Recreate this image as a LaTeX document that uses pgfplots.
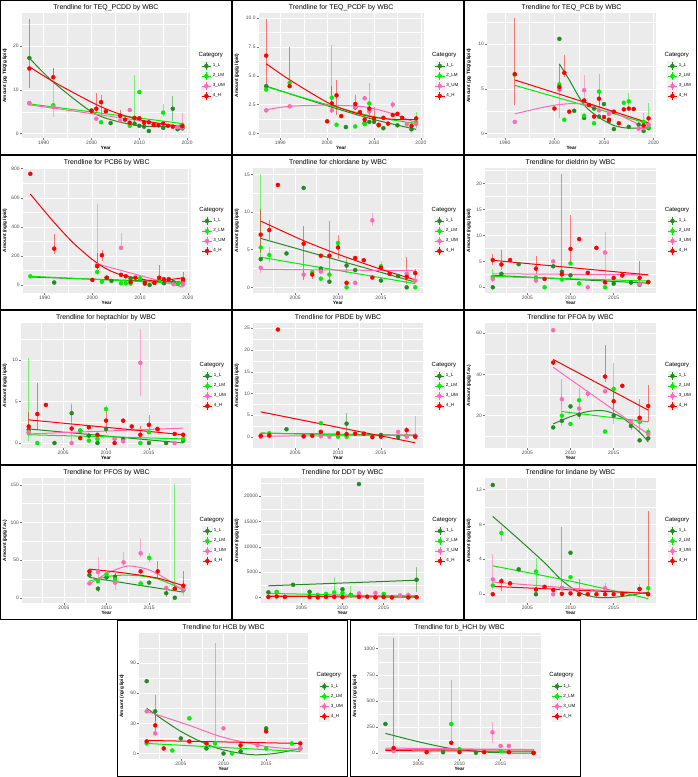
\documentclass[border=0pt]{standalone}
\usepackage{fontspec}
\setmainfont{Liberation Sans}
\usepackage{pgfplots}
\pgfplotsset{compat=1.18}

\definecolor{cL}{HTML}{228B22}
\definecolor{cLM}{HTML}{00F000}
\definecolor{cUM}{HTML}{FF69B4}
\definecolor{cH}{HTML}{FF0000}
\definecolor{ggbg}{HTML}{EBEBEB}
\definecolor{keybg}{HTML}{F2F2F2}

\pgfplotsset{
  /pgfplots/table/eb/.style={/pgfplots/table/row sep=\\,
    /pgfplots/table/y error plus=p, /pgfplots/table/y error minus=m},
  gg/.style={
    scale only axis, anchor=north west, height=125pt,
    axis background/.style={fill=ggbg},
    axis line style={draw=none},
    grid=both,
    major grid style={white, line width=0.55pt},
    minor grid style={white, line width=0.28pt},
    tick pos=left, tick align=outside,
    major tick length=2pt, minor tick length=0pt,
    tick style={black!55, line width=0.45pt},
    tick label style={font=\fontsize{4.9}{5}\selectfont, text=black!70, inner sep=1pt},
    /pgf/number format/assume math mode=true,
    /pgf/number format/1000 sep={},
    scaled ticks=false,
    xlabel={Year},
    every axis title/.style={font=\fontsize{6.9}{8}\selectfont, at={(0.5,1)}, anchor=south, yshift=2.2pt, inner sep=0pt},
    every axis x label/.style={at={(0.5,0)}, anchor=north, yshift=-8.2pt, inner sep=0pt,
      font=\bfseries\fontsize{4.7}{5}\selectfont},
    every axis y label/.style={at={(axis description cs:-0.1,0.5)}, rotate=90, anchor=center, inner sep=0pt,
      font=\bfseries\fontsize{4.7}{5}\selectfont},
    xmin=2000.1, xmax=2019.9,
    xtick={2005,2010,2015}, minor xtick={2002.5,2007.5,2012.5,2017.5},
    legend style={at={(rel axis cs:1.065,0.615)}, anchor=north west, draw=none, fill=none,
       font=\fontsize{4.5}{5}\selectfont, row sep=0.6pt, inner sep=0pt, column sep=0.5pt,
       nodes={inner sep=0.8pt}},
    legend cell align=left,
    legend image code/.code={
      \fill[keybg] (0pt,-4.5pt) rectangle (9.5pt,4.5pt);
      \draw[line width=0.85pt] (0pt,0pt) -- (9.5pt,0pt);
      \draw[line width=0.8pt] (4.75pt,-3.8pt) -- (4.75pt,3.8pt);
      \fill (4.75pt,0pt) circle (2pt);
    },
    after end axis/.code={\node[anchor=south west, inner sep=0pt, font=\fontsize{6}{7}\selectfont]
      at (rel axis cs:1.05,0.64) {Category};},
  },
  yl/.style={ylabel style={at={(axis description cs:#1,0.5)}}},
  pts/.style={forget plot, only marks, mark=*, mark size=2pt, color=#1,
    error bars/.cd, y dir=both, y explicit, error mark=none,
    error bar style={color=#1, line width=0.8pt, opacity=0.5}},
  trend/.style={forget plot, no markers, smooth, line width=1pt, color=#1},
  old/.style={xmin=1985.4, xmax=2020.6, xtick={1990,2000,2010,2020}, minor xtick={1995,2005,2015}},
}
\newcommand\catleg{%
  \addlegendimage{color=cL}\addlegendentry{1\_L}%
  \addlegendimage{color=cLM}\addlegendentry{2\_LM}%
  \addlegendimage{color=cUM}\addlegendentry{3\_UM}%
  \addlegendimage{color=cH}\addlegendentry{4\_H}}

\begin{document}
\begin{tikzpicture}[x=1pt,y=1pt]
\useasboundingbox (0,0) rectangle (697,777);

% ---------- row 1 ----------
\begin{axis}[gg, old, at={(21.7pt,764pt)}, width=168.3pt, yl=-0.0992,
  title={Trendline for TEQ\_PCDD by WBC}, ylabel={Amount (pg TEQ/g lipid)},
  ymin=-1, ymax=27.6, ytick={0,10,20}, minor ytick={5,15,25}]
\catleg
\addplot[pts=cL] table[eb]{x y p m\\1987 17.3 0 0\\2000 5.3 0 0\\2004 2.4 0 0\\2009 2.3 0 0\\2010 1.8 0 0\\2011 1.6 0 0\\2012 0.6 0 0\\2015 1.3 0 0\\2017 5.7 2.8 2.7\\2018 1.0 0 0\\2019 1.2 0 0\\};
\addplot[pts=cLM] table[eb]{x y p m\\1987 7.0 0 0\\1992 6.5 0 0\\2002 2.6 0 0\\2008 1.8 0 0\\2009 3.5 10 1.5\\2010 9.5 0 0\\2015 4.8 2 1\\2019 2.0 0 0\\};
\addplot[pts=cUM] table[eb]{x y p m\\1987 6.9 0 0\\1992 6.1 8.9 2.4\\2001 3.4 0 0\\2006 3.0 0 0\\2008 5.4 0 0\\2018 1.5 0 0\\2019 1.4 3.3 0.5\\};
\addplot[pts=cH] table[eb]{x y p m\\1987 14.9 11.4 4.4\\1992 12.9 2 0.5\\2000 5.2 0 0\\2001 5.7 3.5 1\\2002 7.2 1.7 3\\2003 5.1 0 0\\2006 4.1 1.3 0.5\\2007 3.2 0 0\\2008 2.5 0 0\\2009 3.6 0 0\\2010 3.5 0 0\\2011 2.5 0 0\\2012 2.6 0 0\\2013 2.0 0 0\\2014 1.9 0 0\\2015 2.3 0 0\\2016 1.8 0 0\\2017 1.6 0 0\\2019 1.7 0 0\\};
\addplot[trend=cL] coordinates {(1987,17.3)(1992,11.8)(2000,5.0)(2005,2.9)(2010,1.8)(2015,1.6)(2019,2.0)};
\addplot[trend=cLM] coordinates {(1987,6.8)(2003,4.55)(2019,2.3)};
\addplot[trend=cUM] coordinates {(1987,6.6)(2003,4.1)(2019,1.5)};
\addplot[trend=cH] coordinates {(1987,15.3)(1992,11.9)(2000,7.2)(2005,4.8)(2010,3.2)(2015,2.2)(2019,1.6)};
\end{axis}

\begin{axis}[gg, old, at={(258.7pt,764pt)}, width=165pt, yl=-0.1315,
  title={Trendline for TEQ\_PCDF by WBC}, ylabel={Amount (pg/g lipid)},
  ymin=-0.4, ymax=10.45, ytick={0,2.5,5,7.5,10}, yticklabels={0.0,2.5,5.0,7.5,10.0},
  minor ytick={1.25,3.75,6.25,8.75}]
\catleg
\addplot[pts=cL] table[eb]{x y p m\\1987 4.1 0 0\\2004 0.55 0 0\\2006 2.25 0 0\\2008 0.9 0 0\\2009 1.0 0 0\\2010 1.0 0 0\\2011 0.7 0 0\\2012 0.45 0 0\\2015 0.7 0 0\\2018 0.35 0 0\\};
\addplot[pts=cLM] table[eb]{x y p m\\1987 3.8 0 0\\1992 4.4 0 0\\2001 3.1 4.6 0.5\\2002 0.75 0 0\\2006 0.6 0 0\\2008 0.8 0 0\\2009 2.6 1.8 0.4\\2019 0.95 0.9 0.5\\};
\addplot[pts=cUM] table[eb]{x y p m\\1987 2.0 0 0\\1992 2.35 0 0\\2001 2.0 0 0\\2006 2.3 0 0\\2008 3.05 0 0\\2009 1.9 0 0\\2014 2.5 0.3 0.3\\2017 0.8 0 0\\2019 0.8 0 0\\};
\addplot[pts=cH] table[eb]{x y p m\\1987 6.75 3.2 2.6\\1992 4.1 3.4 0\\2000 1.05 0 0\\2001 2.6 1.5 0.8\\2002 3.3 1.35 1.7\\2003 1.5 0 0\\2006 2.55 0.8 0.5\\2007 1.85 0 0\\2008 1.2 0 0\\2009 2.15 0.5 0.8\\2010 1.3 1 0.3\\2011 0.75 0 0\\2012 1.35 0 0\\2013 0.85 0 0\\2014 1.6 0 0\\2015 1.7 0 0\\2016 1.35 0 0\\2018 0.65 0.3 0\\2019 1.3 0 0\\};
\addplot[trend=cL] coordinates {(1987,4.1)(2000,2.4)(2010,1.2)(2019,0.35)};
\addplot[trend=cLM] coordinates {(1987,4.05)(2000,2.5)(2010,1.45)(2019,0.85)};
\addplot[trend=cUM] coordinates {(1987,2.05)(1992,2.35)(2000,2.45)(2008,2.3)(2014,1.7)(2019,0.9)};
\addplot[trend=cH] coordinates {(1987,6.05)(1992,4.65)(2000,2.7)(2005,1.9)(2010,1.4)(2015,1.2)(2019,1.2)};
\end{axis}

\begin{axis}[gg, at={(487pt,764pt)}, width=169pt, yl=-0.1065,
  xmin=1986.4, xmax=2020.5, xtick={1990,2000,2010,2020}, minor xtick={1995,2005,2015},
  title={Trendline for TEQ\_PCB by WBC}, ylabel={Amount (pg TEQ/g lipid)},
  ymin=-0.5, ymax=13.5, ytick={0,5,10}, minor ytick={2.5,7.5,12.5}]
\catleg
\addplot[pts=cL] table[eb]{x y p m\\2001 10.6 0 0\\2004 2.55 0 0\\2006 1.75 0 0\\2008 2.8 0 0\\2009 1.9 0 0\\2010 3.3 0 0\\2011 1.4 0 0\\2012 0.5 0 0\\2015 0.75 0 0\\2017 1.0 0 0\\2018 0.3 0 0\\2019 0.6 0 0\\};
\addplot[pts=cLM] table[eb]{x y p m\\1992 6.6 0 0\\2001 5.5 0 0\\2002 1.55 0 0\\2006 2.0 0 0\\2008 1.15 0 0\\2009 4.7 2 1.5\\2014 3.45 0 0\\2015 3.6 0.9 0.5\\2018 1.3 1 0.5\\2019 0.7 2.7 0\\};
\addplot[pts=cUM] table[eb]{x y p m\\1992 1.3 0 0\\2001 4.9 1 3.2\\2006 4.85 1.7 1\\2009 2.6 0 0\\2011 2.2 0 0\\2017 0.55 0 0\\2018 0.6 0 0\\2019 1.0 0 0\\};
\addplot[pts=cH] table[eb]{x y p m\\1992 6.65 6.25 3.5\\2000 2.8 0 0\\2001 5.2 2.6 0.6\\2002 6.8 2 0.5\\2003 2.45 0 0\\2006 3.7 0 0\\2007 3.2 0 0\\2008 1.9 0 0\\2009 3.9 0.8 1\\2010 1.85 0 0\\2011 1.55 0 0\\2012 2.45 0 0\\2013 1.15 0 0\\2014 2.7 0 0\\2015 2.8 0 0\\2016 2.75 0 0\\2018 0.9 0 0\\2019 1.7 0 0\\};
\addplot[trend=cL] coordinates {(2001,7.8)(2003,6.0)(2006,3.2)(2009,1.8)(2012,0.9)(2015,0.6)(2019,0.65)};
\addplot[trend=cLM] coordinates {(1992,5.4)(2005,3.33)(2019,1.1)};
\addplot[trend=cUM] coordinates {(1992,2.2)(1997,2.85)(2001,3.25)(2005,3.35)(2009,2.95)(2013,2.1)(2016,1.3)(2018,0.75)};
\addplot[trend=cH] coordinates {(1992,6.0)(2005,3.7)(2019,1.2)};
\end{axis}

% ---------- row 2 ----------
\begin{axis}[gg, old, at={(22.7pt,609pt)}, width=168pt, yl=-0.1054,
  title={Trendline for PCB6 by WBC}, ylabel={Amount (ng/g lipid)},
  ymin=-55, ymax=805, ytick={0,200,400,600,800}, minor ytick={100,300,500,700}]
\catleg
\addplot[pts=cL] table[eb]{x y p m\\1992 17 0 0\\2003 50 0 0\\2004 28 0 0\\2008 45 0 0\\2010 42 0 0\\2011 8 0 0\\2012 0 0 0\\2015 12 0 0\\2017 20 0 0\\2018 10 0 0\\2019 30 0 0\\};
\addplot[pts=cLM] table[eb]{x y p m\\1987 60 0 0\\2001 90 40 20\\2002 22 0 0\\2006 12 0 0\\2007 12 0 0\\2008 10 0 0\\2010 45 0 0\\2014 40 0 0\\2018 10 0 0\\2019 5 0 0\\};
\addplot[pts=cUM] table[eb]{x y p m\\2001 135 420 0\\2006 255 100 0\\2013 15 0 0\\2017 5 0 0\\2019 10 0 0\\};
\addplot[pts=cH] table[eb]{x y p m\\1987 765 0 0\\1992 250 100 40\\2000 35 0 0\\2001 130 90 20\\2002 205 35 40\\2003 50 0 0\\2006 70 0 0\\2007 60 0 0\\2008 20 0 0\\2009 50 0 0\\2011 15 0 0\\2013 15 0 0\\2014 50 85 10\\2015 40 0 0\\2016 40 0 0\\2019 40 50 20\\};
\addplot[trend=cL] coordinates {(1987,55)(2003,37)(2019,20)};
\addplot[trend=cLM] coordinates {(1987,60)(2003,35)(2019,10)};
\addplot[trend=cUM] coordinates {(2001,145)(2010,65)(2019,-15)};
\addplot[trend=cH] coordinates {(1987,625)(1992,430)(1996,290)(2000,175)(2003,110)(2006,70)(2010,42)(2013,28)(2016,36)(2019,50)};
\end{axis}

\begin{axis}[gg, at={(253pt,609pt)}, width=170pt, yl=-0.0941,
  title={Trendline for chlordane by WBC}, ylabel={Amount (ng/g lipid)},
  ymin=-0.75, ymax=15.85, ytick={0,5,10,15}, minor ytick={2.5,7.5,12.5}]
\catleg
\addplot[pts=cL] table[eb]{x y p m\\2001 3.75 0 0\\2004 4.5 0 0\\2006 13.2 0 0\\2008 2.5 0 0\\2009 0.75 8 0\\2011 2.9 1 1\\2012 2.3 0 0\\2015 0.9 0 0\\2017 1.5 0 0\\2018 0 0 0\\};
\addplot[pts=cLM] table[eb]{x y p m\\2001 5.3 9.8 2\\2002 4.3 1 1\\2007 2.0 0 0\\2008 1.15 0 0\\2009 1.7 1 0.5\\2010 5.9 0 0\\2011 0 0 0\\2015 2.8 0.7 0.5\\2019 0 0 0\\};
\addplot[pts=cUM] table[eb]{x y p m\\2001 2.6 0.3 0.7\\2006 1.7 0.5 0.5\\2008 2.1 0 0\\2012 0.6 0 0\\2014 8.9 1 0.7\\2018 1.8 0 0\\2019 0.9 0 0\\};
\addplot[pts=cH] table[eb]{x y p m\\2001 7.0 3.4 2.5\\2002 7.6 1.3 1.3\\2003 13.6 0 0\\2006 5.8 2.3 4.8\\2007 1.7 0.5 0.6\\2008 4.2 0 0\\2009 4.2 0 0\\2010 5.3 1.7 1.5\\2011 0.6 0 0\\2012 3.9 0 0\\2013 3.6 0 0\\2014 1.3 0 0\\2015 2.6 0 0\\2016 1.8 0 0\\2018 1.4 2.6 1\\2019 1.9 0.6 0.6\\};
\addplot[trend=cL] coordinates {(2001,6.5)(2010,3.6)(2019,0.7)};
\addplot[trend=cLM] coordinates {(2001,4.0)(2010,2.25)(2019,0.5)};
\addplot[trend=cUM] coordinates {(2001,2.4)(2010,2.3)(2019,2.2)};
\addplot[trend=cH] coordinates {(2001,8.8)(2006,6.2)(2010,4.4)(2015,2.4)(2019,1.0)};
\end{axis}

\begin{axis}[gg, at={(485pt,609pt)}, width=171pt, yl=-0.0936,
  title={Trendline for dieldrin by WBC}, ylabel={Amount (ng/g lipid)},
  ymin=-1.1, ymax=23.0, ytick={0,5,10,15,20}, minor ytick={2.5,7.5,12.5,17.5,22.5}]
\catleg
\addplot[pts=cL] table[eb]{x y p m\\2001 0 0 0\\2002 2.6 0 0\\2004 4.45 0 0\\2008 4.05 0 0\\2009 3.0 18.9 1\\2010 2.3 0 0\\2015 0.7 0 0\\2017 0.9 0 0\\2018 0.5 0 0\\2019 1.0 0 0\\};
\addplot[pts=cLM] table[eb]{x y p m\\2001 2.0 1.5 1\\2006 1.9 0 0\\2007 0 0 0\\2009 1.5 0 0\\2010 4.6 0 0\\2011 0.75 0 0\\2014 0 0 0\\2019 1.0 0 0\\};
\addplot[pts=cUM] table[eb]{x y p m\\2001 1.6 0 0\\2006 1.3 0 0\\2008 5.0 0 0\\2012 0 0 0\\2014 6.7 3.9 6\\2016 2.3 0 0\\2018 0.6 0 0\\};
\addplot[pts=cH] table[eb]{x y p m\\2001 5.25 1.2 1\\2002 4.4 2.8 1\\2003 5.25 0 0\\2006 3.6 2.5 1\\2007 1.6 0 0\\2009 2.5 0 0\\2010 7.4 6.6 3\\2011 9.3 0 0\\2012 2.8 0 0\\2013 7.6 0 0\\2014 0.95 0 0\\2015 1.8 0 0\\2016 2.3 0 0\\2018 1.8 3.2 1\\2019 1.0 0 0\\};
\addplot[trend=cL] coordinates {(2001,2.3)(2010,1.55)(2019,0.8)};
\addplot[trend=cLM] coordinates {(2001,2.1)(2010,1.65)(2019,1.2)};
\addplot[trend=cUM] coordinates {(2001,2.6)(2010,2.5)(2019,2.4)};
\addplot[trend=cH] coordinates {(2001,5.2)(2010,3.8)(2019,2.4)};
\end{axis}

% ---------- row 3 ----------
\begin{axis}[gg, at={(21pt,454pt)}, width=170pt, yl=-0.0941,
  title={Trendline for heptachlor by WBC}, ylabel={Amount (ng/g lipid)},
  ymin=-0.6, ymax=14.5, ytick={0,5,10}, minor ytick={2.5,7.5,12.5}]
\catleg
\addplot[pts=cL] table[eb]{x y p m\\2001 1.6 0 0\\2004 0 0 0\\2006 3.6 1 1\\2007 1.5 0 0\\2008 0.9 0 0\\2009 0 0 0\\2010 1.7 0 0\\2012 0.5 0 0\\2015 0 0 0\\2017 0 0 0\\2019 0.3 0 0\\};
\addplot[pts=cLM] table[eb]{x y p m\\2001 1.2 9.1 1\\2002 0 0 0\\2007 1.5 0 0\\2008 0.3 0 0\\2009 0.5 0 0\\2010 4.1 0.5 0.5\\2014 0 0 0\\2015 1.3 0 0\\2019 0.5 0 0\\};
\addplot[pts=cUM] table[eb]{x y p m\\2001 1.3 0 0\\2006 0 4.8 0\\2011 0.5 0 0\\2012 0.2 0 0\\2014 9.7 4.1 4\\2016 1.6 0 0\\2018 0 0 0\\};
\addplot[pts=cH] table[eb]{x y p m\\2001 2.0 1.8 1\\2002 3.5 3.7 1.8\\2003 4.6 0 0\\2006 1.75 0 0\\2007 0.6 0 0\\2008 1.9 0 0\\2009 1.0 0 0\\2010 2.7 1 1.5\\2011 0 0 0\\2012 2.7 0 0\\2013 2.0 0 0\\2014 1.0 1 0.5\\2015 2.2 1.2 1\\2016 1.7 0 0\\2018 1.1 0 0\\2019 1.0 0 0\\};
\addplot[trend=cL] coordinates {(2001,1.7)(2010,0.85)(2019,0.0)};
\addplot[trend=cLM] coordinates {(2001,1.0)(2010,0.75)(2019,0.5)};
\addplot[trend=cUM] coordinates {(2001,1.1)(2010,1.45)(2019,1.8)};
\addplot[trend=cH] coordinates {(2001,2.8)(2010,1.9)(2019,1.0)};
\end{axis}

\begin{axis}[gg, at={(253pt,454pt)}, width=170pt, yl=-0.0941,
  title={Trendline for PBDE by WBC}, ylabel={Amount (ng/g lipid)},
  ymin=-2.5, ymax=26.2, ytick={0,5,10,15,20,25}, minor ytick={2.5,7.5,12.5,17.5,22.5}]
\catleg
\addplot[pts=cL] table[eb]{x y p m\\2004 1.8 0 0\\2011 3.1 2.5 2\\2015 0.5 0 0\\2017 0 0 0\\2019 0.3 0 0\\};
\addplot[pts=cLM] table[eb]{x y p m\\2002 0.9 0 0\\2008 3.2 0 0\\2010 0.1 0 0\\2011 0.1 0 0\\2018 0.3 0 0\\};
\addplot[pts=cUM] table[eb]{x y p m\\2001 0.1 0 0\\2002 0.2 0 0\\2006 0.1 0 0\\2008 0.2 0 0\\2009 0.1 0 0\\2017 1.2 0 0\\2018 0.1 0 0\\2019 0.2 4.6 0\\};
\addplot[pts=cH] table[eb]{x y p m\\2001 0.3 0 0\\2002 0.4 0 0\\2003 24.7 0 0\\2006 0.2 0 0\\2007 0.3 0 0\\2008 1.2 0.5 0.5\\2010 0.9 0 0\\2011 0.7 0 0\\2012 0.8 0 0\\2013 0.8 0 0\\2014 0 0 0\\2015 0.1 0 0\\2018 1.6 0.7 1\\2019 0.1 0 0\\};
\addplot[trend=cL] coordinates {(2001,0.9)(2010,0.65)(2019,0.4)};
\addplot[trend=cLM] coordinates {(2001,0.9)(2010,0.6)(2019,0.3)};
\addplot[trend=cUM] coordinates {(2001,0.2)(2010,0.35)(2019,0.5)};
\addplot[trend=cH] coordinates {(2001,5.8)(2010,2.25)(2019,-1.3)};
\end{axis}

\begin{axis}[gg, at={(485pt,454pt)}, width=171pt, yl=-0.0936,
  title={Trendline for PFOA by WBC}, ylabel={Amount (pg/g f.w.)},
  ymin=4.3, ymax=65, ytick={20,40,60}, minor ytick={10,30,50}]
\catleg
\addplot[pts=cL] table[eb]{x y p m\\2008 14.3 0 0\\2009 17.5 0 0\\2010 24.5 0 0\\2011 20.5 2 2\\2015 20 0 0\\2017 15 2 2\\2018 8 0 0\\2019 9 0 0\\};
\addplot[pts=cLM] table[eb]{x y p m\\2009 20 17.8 5\\2010 16 0 0\\2011 27.5 6 4\\2014 12.3 0 0\\2015 33 12.5 17\\2018 17 11 5\\2019 12 2 1\\};
\addplot[pts=cUM] table[eb]{x y p m\\2008 61.5 0 0\\2009 28 3 3\\2011 23.5 2 5\\2012 30.7 2 2\\2014 31.8 0 0\\2017 17 0 0\\2018 18 10 5\\2019 11 0 0\\};
\addplot[pts=cH] table[eb]{x y p m\\2008 45.8 1 1\\2014 39 15.5 2.5\\2015 27 5.5 5\\2016 34.5 0 0\\2018 19 1 1\\2019 24.7 10 8\\};
\addplot[trend=cL] coordinates {(2008,16)(2010,19.5)(2012,22)(2014,22.3)(2016,19)(2018,12)(2019,7.3)};
\addplot[trend=cLM] coordinates {(2009,22)(2014,19.5)(2019,17)};
\addplot[trend=cUM] coordinates {(2008,43.5)(2013,28.7)(2019,11)};
\addplot[trend=cH] coordinates {(2008,47.3)(2013,36.1)(2019,22.7)};
\end{axis}

% ---------- row 4 ----------
\begin{axis}[gg, at={(22pt,299pt)}, width=169pt, yl=-0.1006,
  title={Trendline for PFOS by WBC}, ylabel={Amount (pg/g f.w.)},
  ymin=-7, ymax=159, ytick={0,50,100,150}, minor ytick={25,75,125}]
\catleg
\addplot[pts=cL] table[eb]{x y p m\\2008 30 0 0\\2009 12 4 4\\2010 27 0 0\\2011 28 5 5\\2015 20 0 0\\2017 6 5 5\\2018 0 0 0\\};
\addplot[pts=cLM] table[eb]{x y p m\\2009 22 0 0\\2010 31 0 0\\2011 24 0 0\\2014 19 0 0\\2015 53 7 7\\2018 12 139 0\\2019 10 0 0\\};
\addplot[pts=cUM] table[eb]{x y p m\\2008 19 0 0\\2009 34 20 8\\2011 20 10 10\\2012 47 14 5\\2014 59 20 5\\2017 13 0 0\\2019 12 10 10\\};
\addplot[pts=cH] table[eb]{x y p m\\2008 35 0 0\\2014 35 0 0\\2016 35 14 10\\2018 12 0 0\\2019 16 19 4\\};
\addplot[trend=cL] coordinates {(2008,27)(2013,18)(2019,7.5)};
\addplot[trend=cLM] coordinates {(2008,22)(2010,28)(2012,30)(2014,29)(2016,25)(2018,16)(2019,11)};
\addplot[trend=cUM] coordinates {(2008,18)(2010,32)(2012,41)(2013,42)(2015,37)(2017,25)(2019,9)};
\addplot[trend=cH] coordinates {(2008,38)(2012,33)(2016,26)(2019,16)};
\end{axis}

\begin{axis}[gg, at={(261pt,299pt)}, width=163pt, yl=-0.1472,
  title={Trendline for DDT by WBC}, ylabel={Amount (ng/g lipid)},
  ymin=-1100, ymax=23600, ytick={0,5000,10000,15000,20000}, minor ytick={2500,7500,12500,17500,22500}]
\catleg
\addplot[pts=cL] table[eb]{x y p m\\2001 1000 0 0\\2004 2500 0 0\\2006 1100 0 0\\2010 1600 0 0\\2011 500 0 0\\2012 22400 0 0\\2019 3500 2500 2500\\};
\addplot[pts=cLM] table[eb]{x y p m\\2002 1100 0 0\\2007 500 0 0\\2008 700 0 0\\2009 1000 3000 500\\2010 900 0 0\\2011 400 1800 0\\2015 700 0 0\\};
\addplot[pts=cUM] table[eb]{x y p m\\2009 400 0 0\\2012 800 0 0\\2014 900 0 0\\2017 400 0 0\\2018 500 0 0\\};
\addplot[pts=cH] table[eb]{x y p m\\2001 100 0 0\\2002 200 0 0\\2003 100 0 0\\2006 100 0 0\\2007 0 0 0\\2008 100 0 0\\2009 100 0 0\\2010 50 0 0\\2012 100 0 0\\2013 150 0 0\\2014 0 0 0\\2015 100 0 0\\2016 0 0 0\\2018 0 0 0\\2019 50 0 0\\};
\addplot[trend=cL] coordinates {(2001,2300)(2010,2850)(2019,3400)};
\addplot[trend=cLM] coordinates {(2001,800)(2010,475)(2019,150)};
\addplot[trend=cUM] coordinates {(2001,300)(2010,325)(2019,350)};
\addplot[trend=cH] coordinates {(2001,200)(2010,125)(2019,50)};
\end{axis}

\begin{axis}[gg, at={(485pt,299pt)}, width=171pt, yl=-0.0936,
  title={Trendline for lindane by WBC}, ylabel={Amount (ng/g lipid)},
  ymin=-1, ymax=13.3, ytick={0,4,8,12}, minor ytick={2,6,10}]
\catleg
\addplot[pts=cL] table[eb]{x y p m\\2001 12.5 0 0\\2004 2.85 0 0\\2006 0 0 0\\2009 0.7 7 0\\2010 4.75 0 0\\2011 0 1.7 0\\};
\addplot[pts=cLM] table[eb]{x y p m\\2001 1.0 0 0\\2002 7.0 0.7 0.9\\2006 2.6 1.6 2.6\\2010 1.95 0 0\\2018 0.6 0.6 0.6\\2019 0.7 0 0\\};
\addplot[pts=cUM] table[eb]{x y p m\\2001 1.7 2.9 1.2\\2008 0 0 0\\2009 0.7 0 0\\2014 0.7 0.6 0.6\\};
\addplot[pts=cH] table[eb]{x y p m\\2001 0 0 0\\2002 1.5 0.4 1.1\\2003 1.25 0 0\\2006 0.55 0 0\\2007 0.85 0 0\\2008 0.5 0 0\\2009 0.05 0 0\\2010 0.1 0 0\\2011 0 0 0\\2012 0 0 0\\2013 0 0 0\\2014 0 0 0\\2015 0 0 0\\2016 0 0 0\\2018 0.6 0 0\\2019 0 9.5 0\\};
\addplot[trend=cL] coordinates {(2001,8.9)(2004,6.3)(2007,3.6)(2009,1.6)(2011,0.2)(2013,-0.35)(2015,-0.35)(2017,-0.1)(2019,0.25)};
\addplot[trend=cLM] coordinates {(2001,3.25)(2010,1.5)(2019,-0.5)};
\addplot[trend=cUM] coordinates {(2001,1.4)(2010,0.7)(2019,0.1)};
\addplot[trend=cH] coordinates {(2001,0.9)(2010,0.5)(2019,0.1)};
\end{axis}

% ---------- row 5 ----------
\begin{axis}[gg, at={(139pt,144pt)}, width=169pt, height=126pt, yl=-0.1006,
  title={Trendline for HCB by WBC}, ylabel={Amount (ng/g lipid)},
  ymin=-5.5, ymax=120, ytick={0,30,60,90}, minor ytick={15,45,75,105}]
\catleg
\addplot[pts=cL] table[eb]{x y p m\\2001 72 0 0\\2002 42 16 10\\2005 15 0 0\\2008 5 0 0\\2010 0 0 0\\2012 2 0 0\\2015 25 0 0\\2019 5 0 0\\};
\addplot[pts=cLM] table[eb]{x y p m\\2001 10 0 0\\2004 3 0 0\\2006 35 0 0\\2009 10 100 5\\2011 0 0 0\\2015 5 0 0\\2018 10 0 0\\};
\addplot[pts=cUM] table[eb]{x y p m\\2001 42 0 0\\2002 20 0 0\\2010 25 0 0\\2014 8 0 0\\2019 5 0 0\\};
\addplot[pts=cH] table[eb]{x y p m\\2001 12 0 0\\2002 28 10 10\\2003 5 0 0\\2006 12 0 0\\2008 10 0 0\\2012 8 0 0\\2015 22 0 0\\2019 10 0 0\\};
\addplot[trend=cL] coordinates {(2001,45)(2005,22)(2009,6)(2013,-1)(2016,0)(2019,5)};
\addplot[trend=cLM] coordinates {(2001,10)(2010,6)(2019,2)};
\addplot[trend=cUM] coordinates {(2001,42)(2006,28)(2010,16)(2015,7)(2019,4)};
\addplot[trend=cH] coordinates {(2001,13)(2010,11.5)(2019,10)};
\end{axis}

\begin{axis}[gg, at={(378pt,144pt)}, width=163pt, height=126pt, yl=-0.1411,
  title={Trendline for b\_HCH by WBC}, ylabel={Amount (ng/g lipid)},
  ymin=-55, ymax=1150, ytick={0,250,500,750,1000}, minor ytick={125,375,625,875,1125}]
\catleg
\addplot[pts=cL] table[eb]{x y p m\\2001 280 0 0\\2008 10 0 0\\2012 5 0 0\\2019 0 0 0\\};
\addplot[pts=cLM] table[eb]{x y p m\\2009 280 420 200\\2010 40 0 0\\2015 20 0 0\\};
\addplot[pts=cUM] table[eb]{x y p m\\2002 20 0 0\\2014 200 100 100\\2015 70 0 0\\2016 70 0 0\\};
\addplot[pts=cH] table[eb]{x y p m\\2002 50 1050 0\\2006 10 0 0\\2009 100 0 0\\2010 10 0 0\\2013 10 0 0\\2016 10 0 0\\2019 5 0 0\\};
\addplot[trend=cL] coordinates {(2001,190)(2005,110)(2009,45)(2013,12)(2016,3)(2019,0)};
\addplot[trend=cLM] coordinates {(2001,40)(2010,40)(2019,40)};
\addplot[trend=cUM] coordinates {(2001,50)(2010,42)(2019,35)};
\addplot[trend=cH] coordinates {(2001,25)(2010,22)(2019,20)};
\end{axis}

% panel frames
\begin{scope}[line width=0.9pt]
\draw (0.5,622.5) rectangle (231.5,776.5);
\draw (232.5,622.5) rectangle (463.5,776.5);
\draw (464.5,622.5) rectangle (696.5,776.5);
\draw (0.5,467.5) rectangle (231.5,621.5);
\draw (232.5,467.5) rectangle (463.5,621.5);
\draw (464.5,467.5) rectangle (696.5,621.5);
\draw (0.5,312.5) rectangle (231.5,466.5);
\draw (232.5,312.5) rectangle (463.5,466.5);
\draw (464.5,312.5) rectangle (696.5,466.5);
\draw (0.5,157.5) rectangle (231.5,311.5);
\draw (232.5,157.5) rectangle (463.5,311.5);
\draw (464.5,157.5) rectangle (696.5,311.5);
\draw (117.5,0.5) rectangle (347.5,156.5);
\draw (350.5,0.5) rectangle (580.5,156.5);
\end{scope}
\end{tikzpicture}
\end{document}
